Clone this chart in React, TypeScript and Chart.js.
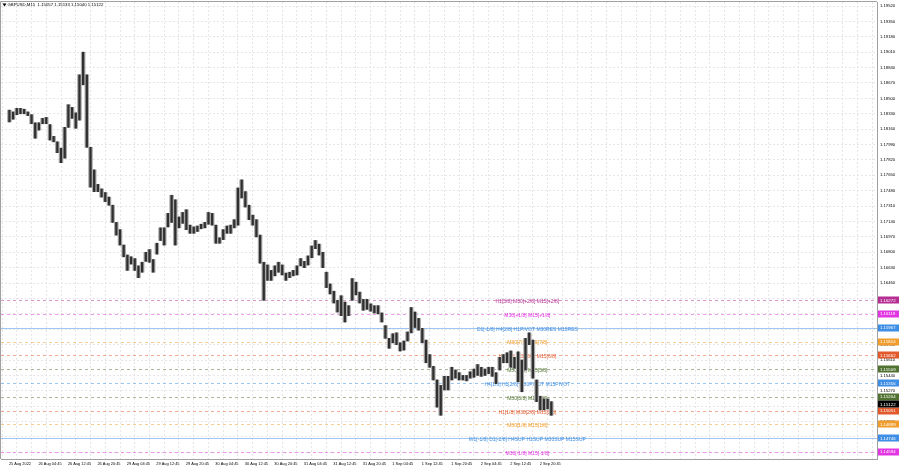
import React, { useEffect, useRef } from 'react';
import { Chart, registerables } from 'chart.js';

Chart.register(...registerables);

const TITLE = 'GBPUSD,M15  1.15057 1.15133 1.15040 1.15122';

// one label every 8 hourly bars
const TIME_LABELS = [
  '25 Aug 2022', '26 Aug 04:45', '26 Aug 12:45', '26 Aug 20:45', '29 Aug 04:45',
  '29 Aug 12:45', '29 Aug 20:45', '30 Aug 04:45', '30 Aug 12:45', '30 Aug 20:45',
  '31 Aug 04:45', '31 Aug 12:45', '31 Aug 20:45', '1 Sep 04:45', '1 Sep 12:45',
  '1 Sep 20:45', '2 Sep 04:45', '2 Sep 12:45', '2 Sep 20:45',
];

// hourly high / low (148 bars)
const HIGH = [
  1.1837, 1.1835, 1.1839, 1.1839, 1.1838, 1.1835, 1.1832, 1.1823, 1.1823, 1.1828,
  1.1829, 1.1821, 1.1808, 1.1802, 1.1795, 1.1818, 1.1843, 1.1840, 1.1834, 1.1876,
  1.1901, 1.1876, 1.1796, 1.1771, 1.1755, 1.1750, 1.1746, 1.1741, 1.1732, 1.1713,
  1.1705, 1.1688, 1.1677, 1.1675, 1.1673, 1.1665, 1.1669, 1.1680, 1.1683, 1.1672,
  1.1690, 1.1707, 1.1707, 1.1723, 1.1743, 1.1738, 1.1719, 1.1724, 1.1727, 1.1710,
  1.1708, 1.1709, 1.1711, 1.1713, 1.1724, 1.1723, 1.1710, 1.1696, 1.1705, 1.1709,
  1.1710, 1.1716, 1.1751, 1.1760, 1.1747, 1.1732, 1.1721, 1.1716, 1.1699, 1.1669,
  1.1666, 1.1660, 1.1665, 1.1669, 1.1666, 1.1657, 1.1658, 1.1660, 1.1665, 1.1673,
  1.1670, 1.1676, 1.1687, 1.1693, 1.1689, 1.1680, 1.1658, 1.1645, 1.1637, 1.1627,
  1.1632, 1.1625, 1.1621, 1.1651, 1.1647, 1.1636, 1.1628, 1.1628, 1.1623, 1.1621,
  1.1621, 1.1613, 1.1599, 1.1585, 1.1590, 1.1591, 1.1580, 1.1582, 1.1592, 1.1619,
  1.1614, 1.1607, 1.1596, 1.1583, 1.1567, 1.1554, 1.1539, 1.1533, 1.1543, 1.1543,
  1.1553, 1.1550, 1.1547, 1.1544, 1.1544, 1.1548, 1.1551, 1.1556, 1.1553, 1.1551,
  1.1553, 1.1553, 1.1547, 1.1564, 1.1567, 1.1569, 1.1571, 1.1564, 1.1570, 1.1561,
  1.1585, 1.1591, 1.1583, 1.1539, 1.1521, 1.1518, 1.1518, 1.1515,
];
const LOW = [
  1.1824, 1.1827, 1.1832, 1.1833, 1.1833, 1.1831, 1.1822, 1.1806, 1.1815, 1.1822,
  1.1822, 1.1804, 1.1802, 1.1790, 1.1779, 1.1784, 1.1818, 1.1828, 1.1817, 1.1826,
  1.1865, 1.1796, 1.1752, 1.1747, 1.1747, 1.1741, 1.1736, 1.1732, 1.1713, 1.1699,
  1.1688, 1.1675, 1.1660, 1.1667, 1.1660, 1.1652, 1.1658, 1.1670, 1.1669, 1.1658,
  1.1678, 1.1693, 1.1688, 1.1708, 1.1713, 1.1688, 1.1707, 1.1712, 1.1705, 1.1701,
  1.1701, 1.1703, 1.1706, 1.1707, 1.1711, 1.1710, 1.1690, 1.1690, 1.1694, 1.1701,
  1.1701, 1.1707, 1.1710, 1.1740, 1.1730, 1.1716, 1.1710, 1.1697, 1.1668, 1.1627,
  1.1649, 1.1649, 1.1654, 1.1658, 1.1655, 1.1649, 1.1652, 1.1654, 1.1655, 1.1665,
  1.1663, 1.1666, 1.1674, 1.1684, 1.1677, 1.1663, 1.1641, 1.1634, 1.1624, 1.1614,
  1.1610, 1.1603, 1.1610, 1.1627, 1.1633, 1.1624, 1.1616, 1.1617, 1.1615, 1.1613,
  1.1612, 1.1603, 1.1585, 1.1574, 1.1580, 1.1578, 1.1571, 1.1572, 1.1582, 1.1591,
  1.1597, 1.1594, 1.1580, 1.1558, 1.1553, 1.1539, 1.1509, 1.1500, 1.1528, 1.1528,
  1.1539, 1.1541, 1.1539, 1.1539, 1.1538, 1.1541, 1.1542, 1.1544, 1.1543, 1.1544,
  1.1546, 1.1543, 1.1535, 1.1550, 1.1558, 1.1558, 1.1553, 1.1552, 1.1537, 1.1526,
  1.1550, 1.1578, 1.1541, 1.1515, 1.1506, 1.1506, 1.1507, 1.1500,
];

const PRICE_TICKS = [
  1.1952, 1.1935, 1.1918, 1.1901, 1.1884, 1.1867, 1.185, 1.1833, 1.1816, 1.1799,
  1.1782, 1.1765, 1.1748, 1.1731, 1.1714, 1.1697, 1.168, 1.1663, 1.1646, 1.1629,
  1.1612, 1.1595, 1.1578, 1.1561, 1.1544, 1.1527, 1.151, 1.1493, 1.1476, 1.1459,
];

const LEVELS = [
  1.16272, 1.16119, 1.15967, 1.15814, 1.15662, 1.15509,
  1.15356, 1.15204, 1.15051, 1.14899, 1.14746, 1.14594,
];
const LEVEL_LABELS = [
  'H1[5/8] M30[+2/8] M15[+2/8]',
  'M30[+1/8] M15[+1/8]',
  'D1[-1/8] H4[2/8] H1PIVOT M30RES M15RES',
  'M30[7/8] M15[7/8]',
  'H1[3/8] M30[6/8] M15[6/8]',
  'M30[5/8] M15[5/8]',
  'H4[1/8] H1[2/8] M30PIVOT M15PIVOT',
  'M30[3/8] M15[3/8]',
  'H1[1/8] M30[2/8] M15[2/8]',
  'M30[1/8] M15[1/8]',
  'W1[-1/8] D1[-2/8] H4SUP H1SUP M30SUP M15SUP',
  'M30[-1/8] M15[-1/8]',
];
const LEVEL_COLORS = [
  '#b52f93', '#e236e2', '#3d8ee4', '#f09d2c', '#e2592c', '#527232',
  '#3d8ee4', '#527232', '#e2592c', '#f09d2c', '#3d8ee4', '#e236e2',
];
const LEVEL_SOLID = [false, false, true, false, false, false, false, false, false, false, true, false];
const LAST_PRICE = 1.15122;
const LABEL_BAR = 140.5;

function hexA(hex: string, a: number) {
  const r = parseInt(hex.slice(1, 3), 16), g = parseInt(hex.slice(3, 5), 16), b = parseInt(hex.slice(5, 7), 16);
  return `rgba(${r},${g},${b},${a})`;
}

const FONT = '"Liberation Sans", Arial, sans-serif';

export default function App() {
  const ref = useRef<HTMLCanvasElement>(null);
  useEffect(() => {
    document.body.style.margin = '0';
    const canvas = ref.current!;
    const overlay = {
      id: 'mt4overlay',
      beforeDatasetsDraw(chart: any) {
        const { ctx, chartArea, scales } = chart;
        const y = scales.y, x = scales.x;
        ctx.save();
        ctx.beginPath();
        ctx.rect(chartArea.left, chartArea.top, chartArea.right - chartArea.left, chartArea.bottom - chartArea.top);
        ctx.clip();
        LEVELS.forEach((lv, i) => {
          const py = Math.round(y.getPixelForValue(lv)) + 0.5;
          ctx.beginPath();
          ctx.lineWidth = 1;
          if (LEVEL_SOLID[i]) {
            ctx.setLineDash([]);
            ctx.strokeStyle = hexA(LEVEL_COLORS[i], 0.5);
          } else {
            ctx.setLineDash([3, 3]);
            ctx.strokeStyle = hexA(LEVEL_COLORS[i], 0.5);
          }
          ctx.moveTo(chartArea.left, py);
          ctx.lineTo(chartArea.right, py);
          ctx.stroke();
        });
        ctx.setLineDash([]);
        ctx.font = `5px ${FONT}`;
        ctx.textAlign = 'center';
        ctx.textBaseline = 'middle';
        const cx = x.getPixelForValue(LABEL_BAR);
        LEVELS.forEach((lv, i) => {
          const py = y.getPixelForValue(lv);
          ctx.fillStyle = LEVEL_COLORS[i];
          ctx.fillText(LEVEL_LABELS[i], cx, py + 1.5);
        });
        ctx.restore();
      },
      afterDraw(chart: any) {
        const { ctx, chartArea, scales } = chart;
        const y = scales.y, x = scales.x;
        ctx.save();
        // frame top & left
        ctx.strokeStyle = '#a0a0a0';
        ctx.lineWidth = 1;
        ctx.beginPath();
        ctx.moveTo(chartArea.left - 0.5, chartArea.top - 0.5);
        ctx.lineTo(chartArea.right, chartArea.top - 0.5);
        ctx.moveTo(chartArea.left - 0.5, chartArea.top - 0.5);
        ctx.lineTo(chartArea.left - 0.5, chartArea.bottom);
        ctx.stroke();
        // y axis labels
        ctx.fillStyle = '#000000';
        ctx.font = `4.2px ${FONT}`;
        ctx.textAlign = 'left';
        ctx.textBaseline = 'middle';
        PRICE_TICKS.forEach((v) => {
          ctx.fillText(v.toFixed(5), chartArea.right + 3, y.getPixelForValue(v));
        });
        // x axis labels
        ctx.font = `3.9px ${FONT}`;
        ctx.textBaseline = 'middle';
        TIME_LABELS.forEach((t, k) => {
          ctx.fillText(t, x.getPixelForValue(k * 8) - 0.5, chartArea.bottom + 4.5);
        });
        // price tags
        ctx.font = `4.3px ${FONT}`;
        const tag = (v: number, color: string) => {
          const py = y.getPixelForValue(v);
          ctx.fillStyle = color;
          ctx.fillRect(chartArea.right + 1, Math.round(py) - 3.5, 21, 7);
          ctx.fillStyle = '#ffffff';
          ctx.fillText(v.toFixed(5), chartArea.right + 3, py + 0.3);
        };
        LEVELS.forEach((lv, i) => tag(lv, LEVEL_COLORS[i]));
        tag(LAST_PRICE, '#000000');
        // title
        ctx.fillStyle = '#000000';
        ctx.beginPath();
        ctx.moveTo(chartArea.left + 1.5, chartArea.top + 1.5);
        ctx.lineTo(chartArea.left + 5.5, chartArea.top + 1.5);
        ctx.lineTo(chartArea.left + 3.5, chartArea.top + 4.5);
        ctx.closePath();
        ctx.fill();
        ctx.font = `4.3px ${FONT}`;
        ctx.fillText(TITLE, chartArea.left + 6.5, chartArea.top + 3);
        ctx.restore();
      },
    };

    const range = HIGH.map((h, i) => ({ x: i, y: [LOW[i], h] }));
    const chart = new Chart(canvas, {
      type: 'bar',
      data: {
        datasets: [
          {
            data: range as any,
            backgroundColor: '#2f2f2f',
            borderWidth: 0,
            barThickness: 1.6,
            grouped: false,
            order: 0,
          } as any,
          {
            data: range as any,
            backgroundColor: '#a8a8a8',
            borderWidth: 0,
            barThickness: 3.9,
            grouped: false,
            order: 1,
          } as any,
        ],
      },
      options: {
        responsive: false,
        animation: false,
        devicePixelRatio: 1,
        layout: { padding: { left: 1, top: 2, right: 0, bottom: 0 } },
        plugins: { legend: { display: false }, tooltip: { enabled: false }, title: { display: false } },
        scales: {
          x: {
            type: 'linear',
            min: -0.2667,
            max: 233.33,
            afterBuildTicks: (s: any) => {
              s.ticks = Array.from({ length: 59 }, (_, k) => ({ value: k * 4 }));
            },
            afterFit: (s: any) => { s.height = 9; },
            ticks: { display: false },
            grid: { color: '#e6e6e6', drawTicks: false, lineWidth: 1 },
            border: { display: true, color: '#a0a0a0', dash: [2, 2] },
          },
          y: {
            position: 'right',
            min: 1.145169,
            max: 1.195645,
            afterBuildTicks: (s: any) => {
              s.ticks = PRICE_TICKS.map((v) => ({ value: v }));
            },
            afterFit: (s: any) => { s.width = 23; },
            ticks: { display: false },
            grid: { color: '#e6e6e6', drawTicks: false, lineWidth: 1 },
            border: { display: true, color: '#a0a0a0', dash: [2, 2] },
          },
        },
      },
      plugins: [overlay],
    } as any);
    return () => chart.destroy();
  }, []);
  return (
    <div style={{ width: 900, height: 468 }}>
      <canvas ref={ref} width={900} height={468} style={{ display: 'block', width: 900, height: 468 }} />
    </div>
  );
}
